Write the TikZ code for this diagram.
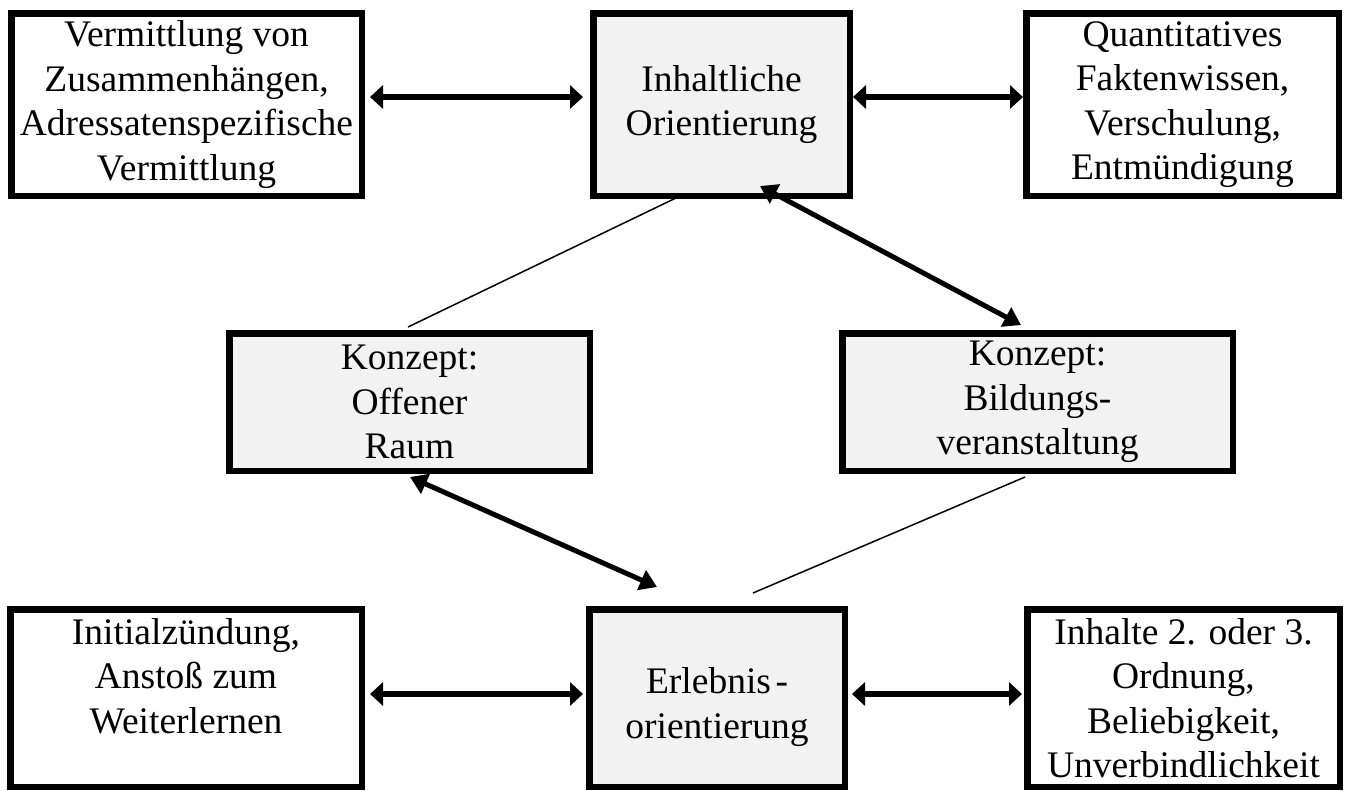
\documentclass[tikz,border=0pt]{standalone}
\usepackage{fontspec}
\setmainfont{Liberation Serif}
\usetikzlibrary{arrows.meta,calc}
\definecolor{boxgray}{RGB}{242,242,242}
\begin{document}
\begin{tikzpicture}[x=1pt,y=-1pt,
  box/.style={draw=black, line width=6.5pt, inner sep=0pt, align=center,
    font=\fontsize{37.5}{44.5}\selectfont},
  graybox/.style={box, fill=boxgray},
  whitebox/.style={box, fill=white},
  harrow/.style={line width=5.5pt,
    {Triangle[length=13pt,width=23pt]}-{Triangle[length=13pt,width=23pt]}},
  darrow/.style={line width=5pt,
    {Triangle[length=17pt,width=21pt]}-{Triangle[length=17pt,width=21pt]}},
  thinlink/.style={line width=1.5pt}
]
\useasboundingbox (0,0) rectangle (1346,790);

% top row
\node[whitebox, minimum width=350.5pt, minimum height=182.5pt] (tl) at (186.5,104.5)
  {Vermittlung von\\Zusammenhängen,\\Adressatenspezifische\\Vermittlung};
\node[graybox, minimum width=256.5pt, minimum height=182.5pt] (tc) at (721.5,104.5)
  {Inhaltliche\\Orientierung};
\node[whitebox, minimum width=312.5pt, minimum height=182.5pt] (tr) at (1182.5,104.5)
  {Quantitatives\\Faktenwissen,\\Verschulung,\\Entmündigung};

% middle row
\node[graybox, minimum width=360.5pt, minimum height=137.5pt] (ml) at (409.5,402)
  {Konzept:\\Offener\\Raum};
\node[graybox, minimum width=390.5pt, minimum height=137.5pt] (mr) at (1037.5,402)
  {Konzept:\\Bildungs-\\veranstaltung};

% bottom row
\node[whitebox, minimum width=351.5pt, minimum height=177.5pt] (bl) at (186,698)
  {Initialzündung,\\Anstoß zum\\Weiterlernen\\\mbox{}};
\node[graybox, minimum width=255.5pt, minimum height=177.5pt] (bc) at (717,698)
  {\mbox{}\\Erlebnis\hspace{0.12em}-\\orientierung};
\node[whitebox, minimum width=312.5pt, minimum height=177.5pt] (br) at (1183.5,698)
  {Inhalte 2. oder 3.\\Ordnung,\\Beliebigkeit,\\Unverbindlichkeit};

% horizontal arrows
\draw[harrow, shorten <=5pt, shorten >=7pt] ([yshift=7.5pt]tl.east) -- ([yshift=7.5pt]tc.west);
\draw[harrow] ([yshift=7.5pt]tc.east) -- ([yshift=7.5pt]tr.west);
\draw[harrow, shorten <=5pt, shorten >=3pt] ([yshift=4pt]bl.east) -- ([yshift=4pt]bc.west);
\draw[harrow, shorten <=4pt, shorten >=2pt] ([yshift=4pt]bc.east) -- ([yshift=4pt]br.west);

% diagonal connectors
\draw[darrow] ($(tc.south)+(38.5,-13)$) -- ($(mr.north)+(-16.5,-5)$);
\draw[darrow] ($(ml.south)+(0.5,3)$) -- ($(bc.north)+(-60,-19)$);
\draw[thinlink] ($(tc.south)+(-43.5,-2)$) -- ($(ml.north)+(-1.5,-3)$);
\draw[thinlink] ($(mr.south)+(-12.5,3)$) -- ($(bc.north)+(36,-13)$);
\end{tikzpicture}
\end{document}
